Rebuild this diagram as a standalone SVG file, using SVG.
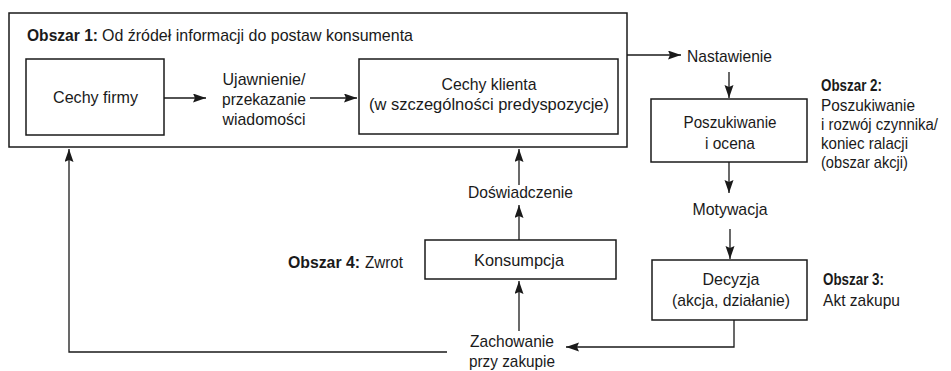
<svg xmlns="http://www.w3.org/2000/svg" width="951" height="371" viewBox="0 0 951 371">
<style>
text{font-family:"Liberation Sans Narrow","Liberation Sans",Arial,sans-serif;font-size:17px;fill:#1a1a1a}
.b{font-weight:bold}
.m{text-anchor:middle}
.box{fill:none;stroke:#1a1a1a;stroke-width:1.5}
.ln{fill:none;stroke:#1a1a1a;stroke-width:1.3}
.ar{marker-end:url(#ah)}
</style>
<defs>
<marker id="ah" markerUnits="userSpaceOnUse" markerWidth="14" markerHeight="10" refX="13" refY="4.5" orient="auto">
<path d="M0,0 L13,4.5 L0,9 L2,4.5 z" fill="#1a1a1a"/>
</marker>
</defs>
<rect width="951" height="371" fill="#fff"/>

<g id="obszar1">
<rect class="box" x="9" y="13" width="618" height="134"/>
<text class="b" x="27" y="41" textLength="71" lengthAdjust="spacingAndGlyphs">Obszar 1:</text>
<text x="102" y="41" textLength="311" lengthAdjust="spacingAndGlyphs">Od źródeł informacji do postaw konsumenta</text>
</g>

<g id="cechy-firmy">
<rect class="box" x="26" y="59" width="138" height="76"/>
<text x="53" y="103" textLength="85" lengthAdjust="spacingAndGlyphs">Cechy firmy</text>
</g>

<g id="ujawnienie">
<text class="m" x="264" y="85" textLength="83" lengthAdjust="spacingAndGlyphs">Ujawnienie/</text>
<text class="m" x="264" y="105" textLength="84" lengthAdjust="spacingAndGlyphs">przekazanie</text>
<text class="m" x="264" y="125" textLength="83" lengthAdjust="spacingAndGlyphs">wiadomości</text>
</g>

<g id="cechy-klienta">
<rect class="box" x="359" y="59" width="259" height="75"/>
<text class="m" x="489" y="90" textLength="95" lengthAdjust="spacingAndGlyphs">Cechy klienta</text>
<text class="m" x="489" y="110" textLength="240" lengthAdjust="spacingAndGlyphs">(w szczególności predyspozycje)</text>
</g>

<g id="nastawienie">
<text x="687" y="62" textLength="85" lengthAdjust="spacingAndGlyphs">Nastawienie</text>
</g>

<g id="poszukiwanie">
<rect class="box" x="651" y="99" width="156" height="63"/>
<text class="m" x="730" y="128" textLength="93" lengthAdjust="spacingAndGlyphs">Poszukiwanie</text>
<text class="m" x="730" y="149" textLength="50" lengthAdjust="spacingAndGlyphs">i ocena</text>
</g>

<g id="obszar2">
<text class="b" x="821" y="91" textLength="61" lengthAdjust="spacingAndGlyphs">Obszar 2:</text>
<text x="821" y="111" textLength="94" lengthAdjust="spacingAndGlyphs">Poszukiwanie</text>
<text x="821" y="130" style="font-size:16px" textLength="117" lengthAdjust="spacingAndGlyphs">i rozwój czynnika/</text>
<text x="821" y="149" textLength="87" lengthAdjust="spacingAndGlyphs">koniec ralacji</text>
<text x="821" y="168" textLength="87" lengthAdjust="spacingAndGlyphs">(obszar akcji)</text>
</g>

<g id="motywacja">
<text class="m" x="730" y="215" textLength="75" lengthAdjust="spacingAndGlyphs">Motywacja</text>
</g>

<g id="decyzja">
<rect class="box" x="652" y="260" width="155" height="60"/>
<text class="m" x="731" y="285" textLength="57" lengthAdjust="spacingAndGlyphs">Decyzja</text>
<text class="m" x="731" y="306" textLength="118" lengthAdjust="spacingAndGlyphs">(akcja, działanie)</text>
</g>

<g id="obszar3">
<text class="b" x="823" y="285" textLength="61" lengthAdjust="spacingAndGlyphs">Obszar 3:</text>
<text x="823" y="306" textLength="77" lengthAdjust="spacingAndGlyphs">Akt zakupu</text>
</g>

<g id="zachowanie">
<text class="m" x="512" y="347" textLength="84" lengthAdjust="spacingAndGlyphs">Zachowanie</text>
<text class="m" x="512" y="367" textLength="86" lengthAdjust="spacingAndGlyphs">przy zakupie</text>
</g>

<g id="konsumpcja">
<rect class="box" x="425" y="240" width="191" height="39"/>
<text class="m" x="519" y="266" textLength="90" lengthAdjust="spacingAndGlyphs">Konsumpcja</text>
</g>

<g id="doswiadczenie">
<text x="468" y="198" textLength="105" lengthAdjust="spacingAndGlyphs">Doświadczenie</text>
</g>

<g id="obszar4">
<text class="b" x="288" y="268" textLength="72" lengthAdjust="spacingAndGlyphs">Obszar 4:</text>
<text x="365" y="268" textLength="38" lengthAdjust="spacingAndGlyphs">Zwrot</text>
</g>

<g id="connectors">
<line class="ln ar" x1="164" y1="98" x2="206" y2="98"/>
<line class="ln ar" x1="310" y1="98" x2="357" y2="98"/>
<line class="ln ar" x1="627" y1="55" x2="681" y2="55"/>
<line class="ln ar" x1="729" y1="72" x2="729" y2="98"/>
<line class="ln ar" x1="729" y1="162" x2="729" y2="193"/>
<line class="ln ar" x1="730" y1="229" x2="730" y2="259"/>
<polyline class="ln ar" points="734,320 734,347 566,347"/>
<line class="ln ar" x1="519" y1="331" x2="519" y2="281"/>
<line class="ln ar" x1="519" y1="240" x2="519" y2="205"/>
<line class="ln ar" x1="519" y1="185" x2="519" y2="149"/>
<polyline class="ln ar" points="447,352 69,352 69,149"/>
</g>
</svg>
